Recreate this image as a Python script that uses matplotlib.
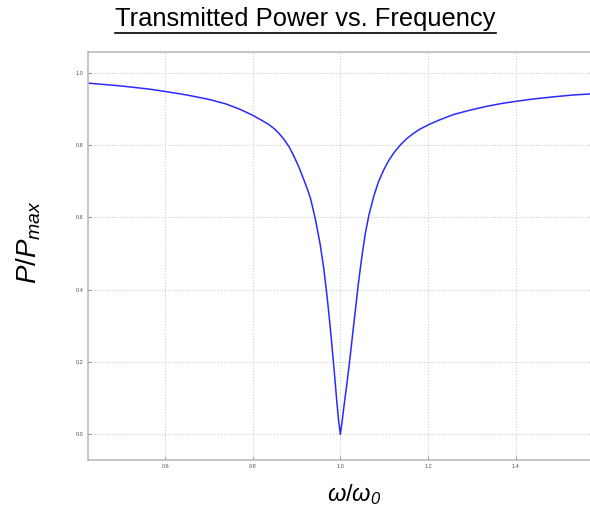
#!/usr/bin/env python3
# coding=utf-8
import matplotlib
matplotlib.use("Agg")
import matplotlib.pyplot as plt
from matplotlib.lines import Line2D

# values
freq = [0.424, 0.500, 0.560, 0.600, 0.650, 0.700, 0.740, 0.772, 0.800, 0.818,
        0.836, 0.848, 0.860, 0.871, 0.883, 0.894, 0.905, 0.916, 0.925, 0.932,
        0.943, 0.954, 0.962, 0.970, 0.977, 0.985, 0.992, 0.996, 1.000, 1.004,
        1.008, 1.015, 1.021, 1.027, 1.034, 1.041, 1.049, 1.057, 1.065, 1.076,
        1.087, 1.099, 1.110, 1.122, 1.137, 1.152, 1.167, 1.182, 1.205, 1.228,
        1.258, 1.295, 1.335, 1.370, 1.403, 1.440, 1.486, 1.530, 1.570, 1.595]
power = [0.971, 0.963, 0.955, 0.948, 0.938, 0.926, 0.913, 0.898, 0.882, 0.870,
         0.857, 0.846, 0.832, 0.816, 0.795, 0.769, 0.740, 0.706, 0.677, 0.652,
         0.595, 0.525, 0.460, 0.378, 0.295, 0.190, 0.090, 0.038, 0.000, 0.035,
         0.075, 0.140, 0.200, 0.265, 0.340, 0.415, 0.490, 0.555, 0.605, 0.657,
         0.698, 0.731, 0.756, 0.778, 0.800, 0.818, 0.832, 0.844, 0.858, 0.870,
         0.884, 0.896, 0.907, 0.915, 0.921, 0.927, 0.933, 0.938, 0.941, 0.943]
xticks = [0.6, 0.8, 1.0, 1.2, 1.4]
yticks = [0.0, 0.2, 0.4, 0.6, 0.8, 1.0]

plt.rcParams['font.family'] = ['Liberation Sans', 'DejaVu Sans']
plt.rcParams['mathtext.fontset'] = 'custom'
plt.rcParams['mathtext.rm'] = 'Liberation Sans'
plt.rcParams['mathtext.it'] = 'Liberation Sans:italic'
plt.rcParams['mathtext.sf'] = 'Liberation Sans:italic'  # for the italic subscript 0

fig = plt.figure(figsize=(5.9, 5.2), dpi=100)
ax = fig.add_axes([88/590, 1 - 460/520, (601 - 88)/590, (460 - 52)/520])

ax.plot(freq, power, color='#2a2aff', linewidth=1.1)
ax.set_xlim(0.424, 1.595)
ax.set_ylim(-0.071, 1.057)
ax.set_xticks(xticks)
ax.set_yticks(yticks)
ax.set_xticklabels(["%.1f" % t for t in xticks])
ax.set_yticklabels(["%.1f" % t for t in yticks])
ax.tick_params(labelsize=4, colors='#555555', length=2, width=0.5, direction='in', pad=3)
ax.grid(True, color='#cccccc', linestyle=':', linewidth=0.8)
for s in ax.spines.values():
  s.set_color('#bbbbbb')
  s.set_linewidth(1.2)

# title, underlined by hand
t = fig.text(305.5/590, 1 - 19/520, "Transmitted Power vs. Frequency",
             fontsize=18.4, ha='center', va='center', color='black')
fig.canvas.draw()
bb = t.get_window_extent().transformed(fig.transFigure.inverted())
fig.add_artist(Line2D([bb.x0, bb.x1], [1 - 33/520, 1 - 33/520],
                      transform=fig.transFigure, color='black', linewidth=1.2))

fig.text(29/590, 1 - 242/520, r'$P/P_{max}$', fontsize=20, rotation=90,
         ha='center', va='center')
fig.text(354/590, 1 - 495/520, r'$\omega/\omega_{\mathsf{0}}$', fontsize=17,
         ha='center', va='center')

plt.savefig("out.png", dpi=100)
